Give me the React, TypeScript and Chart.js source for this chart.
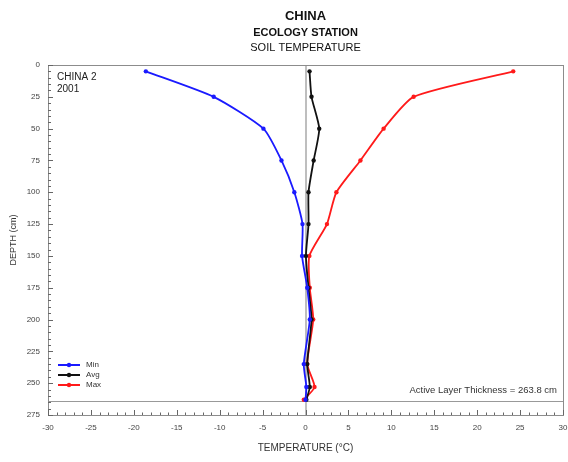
import React, { useEffect, useRef } from "react";
import { Chart, registerables } from "chart.js";

Chart.register(...registerables);

const depths = [5, 25, 50, 75, 100, 125, 150, 175, 200, 235, 253, 263];
const minTemps = [-18.6, -10.7, -4.9, -2.8, -1.3, -0.35, -0.4, 0.2, 0.5, -0.2, 0.1, 0.0];
const avgTemps = [0.47, 0.7, 1.6, 0.95, 0.35, 0.35, 0.05, 0.35, 0.7, 0.2, 0.5, 0.1];
const maxTemps = [24.2, 12.6, 9.1, 6.4, 3.6, 2.5, 0.45, 0.5, 0.9, 0.2, 1.05, -0.2];
const seriesNames = ["Min", "Avg", "Max"];
const seriesColors = ["#1a1aff", "#111111", "#ff1a1a"];
const titleLines = ["CHINA", "ECOLOGY STATION", "SOIL TEMPERATURE"];
const siteLines = ["CHINA 2", "2001"];
const activeLayer = 263.8;
const xMin = -30, xMax = 30, xStep = 5;
const yMin = 0, yMax = 275, yStep = 25;

const FONT = "'Liberation Sans', Arial, sans-serif";

const overlay = {
  id: "overlay",
  beforeDatasetsDraw(chart: any) {
    const { ctx, chartArea: a, scales } = chart;
    const xs = scales.x, ys = scales.y;
    ctx.save();
    ctx.strokeStyle = "#a8a8a8";
    ctx.lineWidth = 1.5;
    const x0 = Math.round(xs.getPixelForValue(0));
    ctx.beginPath();
    ctx.moveTo(x0, a.top);
    ctx.lineTo(x0, a.bottom);
    ctx.stroke();
    ctx.lineWidth = 1;
    ctx.strokeStyle = "#999";
    const yl = Math.round(ys.getPixelForValue(activeLayer)) + 0.5;
    ctx.beginPath();
    ctx.moveTo(a.left, yl);
    ctx.lineTo(a.right, yl);
    ctx.stroke();
    ctx.restore();
  },
  afterDraw(chart: any) {
    const { ctx, chartArea: a, scales } = chart;
    const xs = scales.x, ys = scales.y;
    ctx.save();
    ctx.strokeStyle = "#8c8c8c";
    ctx.lineWidth = 1;
    ctx.strokeRect(Math.round(a.left) + 0.5, Math.round(a.top) + 0.5, Math.round(a.right - a.left), Math.round(a.bottom - a.top));
    ctx.strokeStyle = "#666";
    ctx.beginPath();
    for (let v = yMin; v <= yMax; v += 5) {
      const y = Math.round(ys.getPixelForValue(v)) + 0.5;
      const len = v % yStep === 0 ? 5 : 3;
      ctx.moveTo(a.left, y);
      ctx.lineTo(a.left + len, y);
    }
    for (let v = xMin; v <= xMax; v += 1) {
      const x = Math.round(xs.getPixelForValue(v)) + 0.5;
      const len = v % xStep === 0 ? 5 : 2.5;
      ctx.moveTo(x, a.bottom);
      ctx.lineTo(x, a.bottom - len);
    }
    ctx.stroke();
    const cx = (a.left + a.right) / 2;
    ctx.fillStyle = "#111";
    ctx.textAlign = "center";
    ctx.textBaseline = "middle";
    ctx.font = `bold 13px ${FONT}`;
    ctx.fillText(titleLines[0], cx, 16);
    ctx.font = `bold 11px ${FONT}`;
    ctx.fillText(titleLines[1], cx, 33);
    ctx.font = `11px ${FONT}`;
    ctx.fillText(titleLines[2], cx, 48);
    ctx.textAlign = "left";
    ctx.font = `10px ${FONT}`;
    ctx.fillStyle = "#222";
    ctx.fillText(siteLines[0], a.left + 9, a.top + 12);
    ctx.fillText(siteLines[1], a.left + 9, a.top + 24);
    ctx.textAlign = "right";
    ctx.font = `9.5px ${FONT}`;
    ctx.fillStyle = "#333";
    ctx.fillText(`Active Layer Thickness = ${activeLayer} cm`, a.right - 6, ys.getPixelForValue(activeLayer) - 10);
    ctx.font = `8px ${FONT}`;
    ctx.textAlign = "left";
    seriesNames.forEach((name, i) => {
      const y = a.bottom - 50 + i * 10;
      const x1 = a.left + 10, x2 = a.left + 32;
      ctx.strokeStyle = seriesColors[i];
      ctx.lineWidth = 2;
      ctx.beginPath();
      ctx.moveTo(x1, y);
      ctx.lineTo(x2, y);
      ctx.stroke();
      ctx.fillStyle = seriesColors[i];
      ctx.beginPath();
      ctx.arc((x1 + x2) / 2, y, 2.2, 0, Math.PI * 2);
      ctx.fill();
      ctx.fillStyle = "#333";
      ctx.fillText(name, x2 + 6, y);
    });
    ctx.restore();
  },
};

export default function App() {
  const ref = useRef<HTMLCanvasElement>(null);
  useEffect(() => {
    if (!ref.current) return;
    const mk = (vals: number[]) => vals.map((t, i) => ({ x: t, y: depths[i] }));
    const series = [minTemps, avgTemps, maxTemps];
    const chart = new Chart(ref.current, {
      type: "line",
      data: {
        datasets: series.map((vals, i) => ({
          label: seriesNames[i],
          data: mk(vals),
          borderColor: seriesColors[i],
          backgroundColor: seriesColors[i],
          borderWidth: 1.8,
          pointRadius: 2.2,
          pointBorderWidth: 0,
          tension: 0.2,
          fill: false,
        })),
      },
      options: {
        animation: false,
        responsive: false,
        devicePixelRatio: 1,
        parsing: false as any,
        layout: { padding: { top: 65, right: 5, left: 0, bottom: 0 } },
        plugins: { legend: { display: false }, title: { display: false }, tooltip: { enabled: false } },
        scales: {
          x: {
            type: "linear",
            min: xMin,
            max: xMax,
            grid: { display: false, drawTicks: false, tickLength: 0 },
            border: { display: false },
            ticks: { stepSize: xStep, padding: 8, color: "#444", font: { family: FONT, size: 8 }, maxRotation: 0 },
            title: { display: true, text: "TEMPERATURE (°C)", color: "#333", font: { family: FONT, size: 10 }, padding: { top: 0, bottom: 8 } },
            afterFit: (s: any) => { s.height = 47; s.paddingLeft = 0; s.paddingRight = 0; },
          },
          y: {
            type: "linear",
            reverse: true,
            min: yMin,
            max: yMax,
            grid: { display: false, drawTicks: false, tickLength: 0 },
            border: { display: false },
            ticks: { stepSize: yStep, padding: 8, color: "#444", font: { family: FONT, size: 8 } },
            title: { display: true, text: "DEPTH (cm)", color: "#333", font: { family: FONT, size: 9 }, padding: { top: 8, bottom: 0 } },
            afterFit: (s: any) => { s.width = 48; s.paddingTop = 0; s.paddingBottom = 0; },
          },
        },
      },
      plugins: [overlay],
    });
    return () => chart.destroy();
  }, []);
  return (
    <div style={{ position: "absolute", left: 0, top: 0, width: 568, height: 462, background: "#fff" }}>
      <canvas ref={ref} width={568} height={462} />
    </div>
  );
}
